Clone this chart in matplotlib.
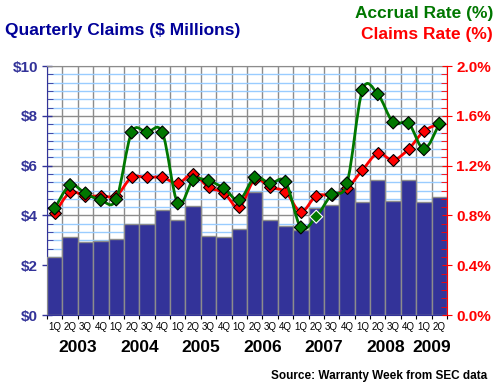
import numpy as np
import matplotlib
matplotlib.use("Agg")
import matplotlib.pyplot as plt
from matplotlib.path import Path
from matplotlib.patches import PathPatch
from matplotlib.transforms import blended_transform_factory

plt.rcParams["font.family"] = ["Liberation Sans", "DejaVu Sans"]

# -----------------------------
# Data
# -----------------------------
quarters = ["1Q", "2Q", "3Q", "4Q"] * 6 + ["1Q", "2Q"]
years = ["2003", "2004", "2005", "2006", "2007", "2008", "2009"]
year_counts = [4, 4, 4, 4, 4, 4, 2]

claims = [2.34, 3.15, 2.92, 2.96,
          3.04, 3.64, 3.64, 4.24,
          3.80, 4.38, 3.16, 3.12,
          3.44, 4.95, 3.80, 3.56,
          3.40, 4.32, 4.44, 5.11,
          4.56, 5.41, 4.60, 5.41,
          4.56, 4.73]

accrual_rate = [0.857, 1.044, 0.977, 0.924,
                0.929, 1.467, 1.467, 1.467,
                0.897, 1.084, 1.079, 1.018,
                0.924, 1.106, 1.058, 1.071,
                0.704, 0.790, 0.969, 1.058,
                1.807, 1.775, 1.548, 1.542,
                1.333, 1.537]

claims_rate = [0.817, 0.985, 0.956, 0.958,
               0.958, 1.106, 1.106, 1.106,
               1.058, 1.133, 1.026, 0.982,
               0.865, 1.090, 1.026, 0.990,
               0.830, 0.958, 0.964, 1.018,
               1.165, 1.299, 1.245, 1.333,
               1.478, 1.537]

BAR = "#333399"
GREEN = "#007700"
RED = "#ff0000"


def smooth_path(x, y):
    # Catmull-Rom curve drawn as cubic bezier segments
    p = np.column_stack([x, y]).astype(float)
    n = len(p)
    verts = [p[0]]
    codes = [Path.MOVETO]
    for i in range(n - 1):
        p0 = p[max(i - 1, 0)]
        p1 = p[i]
        p2 = p[i + 1]
        p3 = p[min(i + 2, n - 1)]
        c1 = p1 + (p2 - p0) / 6.0
        c2 = p2 - (p3 - p1) / 6.0
        verts += [c1, c2, p2]
        codes += [Path.CURVE4] * 3
    return Path(verts, codes)


x = np.arange(len(claims))

fig = plt.figure(figsize=(5, 3.87), dpi=100)
ax = fig.add_axes([0.094, 0.186, 0.80, 0.643])
ax2 = ax.twinx()

# bars
ax.bar(x, claims, width=1.0, color=BAR, edgecolor="#8c8c8c", linewidth=1, zorder=3)

ax.set_xlim(-0.5, len(claims) - 0.5)
ax.set_ylim(0, 10)
ax.set_yticks(np.arange(0, 11, 2))
ax.set_yticklabels(["$%d" % v for v in range(0, 11, 2)])
ax.set_yticks(np.arange(0, 10.01, 1 / 3), minor=True)

ax.set_xticks(np.arange(-0.5, len(claims), 1))
ax.set_xticklabels([])
ax.set_xticks(x, minor=True)
ax.set_xticklabels(quarters, minor=True, fontsize=7)

ax.grid(True, which="major", axis="y", color="#8c8c8c", lw=1, zorder=0)
ax.grid(True, which="minor", axis="y", color="#99ccff", lw=1, zorder=0)
ax.grid(True, which="major", axis="x", color="#8c8c8c", lw=1, zorder=0)
ax.set_axisbelow(True)

ax.tick_params(axis="y", which="major", direction="inout", length=7, color=BAR,
               labelcolor=BAR, labelsize=11, pad=3, width=1)
ax.tick_params(axis="y", which="minor", direction="in", length=4, color=BAR)
ax.tick_params(axis="x", which="major", direction="out", length=3, color="black")
ax.tick_params(axis="x", which="minor", length=0, pad=5)
for lab in ax.get_yticklabels():
    lab.set_fontweight("bold")

ax.spines["left"].set_color(BAR)
ax.spines["bottom"].set_color(BAR)
ax.spines["top"].set_color("#8c8c8c")
ax.spines["right"].set_visible(False)

# rates on right axis
ax2.set_ylim(0, 2.0)
ax2.set_yticks(np.arange(0, 2.01, 0.4))
ax2.set_yticklabels(["%.1f%%" % v for v in np.arange(0, 2.01, 0.4)])
ax2.set_yticks(np.arange(0, 2.001, 0.4 / 6), minor=True)
ax2.tick_params(axis="y", which="major", direction="inout", length=7, color=RED,
                labelcolor=RED, labelsize=11, pad=3)
ax2.tick_params(axis="y", which="minor", direction="in", length=4, color=RED)
for lab in ax2.get_yticklabels():
    lab.set_fontweight("bold")
ax2.spines["right"].set_color(RED)
ax2.spines["left"].set_visible(False)
ax2.spines["top"].set_visible(False)
ax2.spines["bottom"].set_visible(False)

ax2.add_patch(PathPatch(smooth_path(x, claims_rate), fill=False, edgecolor=RED, lw=2, zorder=4))
ax2.plot(x, claims_rate, ls="none", marker="D", ms=6.5, mfc=RED, mec="black", mew=0.8,
         zorder=5, clip_on=False)
ax2.add_patch(PathPatch(smooth_path(x, accrual_rate), fill=False, edgecolor=GREEN, lw=2, zorder=6))
edge = ["black"] * len(accrual_rate)
edge[17] = "white"
ax2.scatter(x, accrual_rate, marker="D", s=44, c=GREEN, edgecolors=edge, linewidths=0.8,
            zorder=7, clip_on=False)

# year labels under quarter labels
trans = blended_transform_factory(ax.transData, ax.transAxes)
start = 0
for yr, cnt in zip(years, year_counts):
    center = start + (cnt - 1) / 2
    ax.text(center, -0.13, yr, transform=trans, ha="center", va="center",
            fontsize=12.5, fontweight="bold", color="black")
    start += cnt

fig.text(0.01, 0.922, "Quarterly Claims ($ Millions)", color="#000099",
         fontsize=12.5, fontweight="bold", ha="left", va="center")
fig.text(0.986, 0.966, "Accrual Rate (%)", color=GREEN,
         fontsize=12.5, fontweight="bold", ha="right", va="center")
fig.text(0.986, 0.91, "Claims Rate (%)", color=RED,
         fontsize=12.5, fontweight="bold", ha="right", va="center")
fig.text(0.974, 0.028, "Source: Warranty Week from SEC data", color="black",
         fontsize=8.5, fontweight="bold", ha="right", va="center")

fig.savefig("out.png", dpi=100)
